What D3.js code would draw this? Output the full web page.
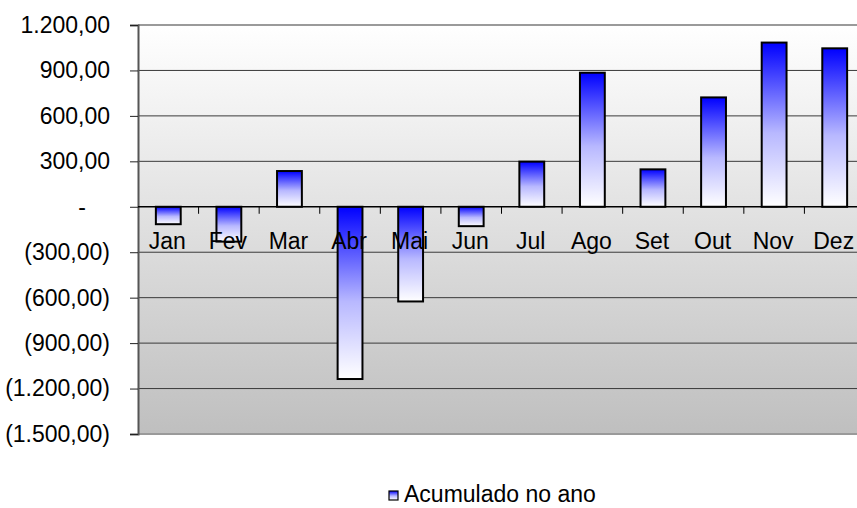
<!DOCTYPE html>
<html>
<head>
<meta charset="utf-8">
<script src="https://cdn.jsdelivr.net/npm/d3@7"></script>
<style>
  body { margin: 0; background: #fff; }
  text { font-family: "Liberation Sans", Arial, sans-serif; fill: #000; }
</style>
</head>
<body>
<script>
// data
var months = ["Jan", "Fev", "Mar", "Abr", "Mai", "Jun", "Jul", "Ago", "Set", "Out", "Nov", "Dez"];
var acumulado = [-115, -230, 236, -1137, -625, -128, 298, 885, 247, 722, 1084, 1046];
var yTicks = [1200, 900, 600, 300, 0, -300, -600, -900, -1200, -1500];
var seriesName = "Acumulado no ano";

var W = 857, H = 508;
var margin = { top: 25, left: 138 },
    width = 727,   // runs past the right edge of the picture, like the original
    height = 409;

var svg = d3.select("body").append("svg")
    .attr("width", W)
    .attr("height", H);

var defs = svg.append("defs");

var bg = defs.append("linearGradient")
    .attr("id", "bg").attr("x1", 0).attr("y1", 0).attr("x2", 0).attr("y2", 1);
bg.append("stop").attr("offset", "0%").attr("stop-color", "#ffffff");
bg.append("stop").attr("offset", "100%").attr("stop-color", "#bfbfbf");

var barGrad = defs.append("linearGradient")
    .attr("id", "barGrad").attr("x1", 0).attr("y1", 0).attr("x2", 0).attr("y2", 1);
barGrad.append("stop").attr("offset", "0%").attr("stop-color", "#0000ff");
barGrad.append("stop").attr("offset", "55%").attr("stop-color", "#b8b8ff");
barGrad.append("stop").attr("offset", "100%").attr("stop-color", "#ffffff");

var g = svg.append("g")
    .attr("transform", "translate(" + margin.left + "," + margin.top + ")");

var x = d3.scaleBand().domain(months).range([0, width]).paddingInner(0.59).paddingOuter(0.295);
var xb = d3.scaleBand().domain(months).range([0, width]);
var y = d3.scaleLinear().domain([-1500, 1200]).range([height, 0]);

var fmt = function(v) {
  if (v === 0) return "-";
  var s = d3.format(",.2f")(Math.abs(v)).replace(/,/g, "#").replace(".", ",").replace(/#/g, ".");
  return v < 0 ? "(" + s + ")" : s;
};

// plot background
g.append("rect")
    .attr("x", 0).attr("y", 0)
    .attr("width", width).attr("height", height)
    .attr("fill", "url(#bg)");

// gridlines
g.selectAll(".grid")
    .data(yTicks.filter(function(d) { return d !== 1200 && d !== -1500 && d !== 0; }))
  .enter().append("line")
    .attr("x1", 0).attr("x2", width)
    .attr("y1", function(d) { return y(d); })
    .attr("y2", function(d) { return y(d); })
    .attr("stroke", "#3a3a3a").attr("stroke-width", 1);

// top / bottom border
g.append("line").attr("x1", 0).attr("x2", width).attr("y1", y(1200)).attr("y2", y(1200))
    .attr("stroke", "#9a9a9a").attr("stroke-width", 2);
g.append("line").attr("x1", 0).attr("x2", width).attr("y1", y(-1500)).attr("y2", y(-1500))
    .attr("stroke", "#9a9a9a").attr("stroke-width", 2);

// y axis
var yAxis = d3.axisLeft(y).tickValues(yTicks).tickSize(8).tickPadding(20).tickFormat(fmt);
var ya = g.append("g").call(yAxis);
ya.select(".domain").attr("stroke", "#555").attr("stroke-width", 2);
ya.selectAll(".tick line").attr("stroke", "#222");
ya.selectAll("text").style("font-size", "23px").attr("fill", "#000");
// the "-" for zero sits further left (accounting format)
ya.selectAll(".tick").filter(function(d) { return d === 0; }).select("text").attr("dx", -24);

// bars
g.selectAll(".bar")
    .data(acumulado)
  .enter().append("rect")
    .attr("x", function(d, i) { return x(months[i]); })
    .attr("width", x.bandwidth())
    .attr("y", function(d) { return y(Math.max(0, d)); })
    .attr("height", function(d) { return Math.abs(y(d) - y(0)); })
    .attr("fill", "url(#barGrad)")
    .attr("stroke", "#000")
    .attr("stroke-width", 2);

// zero line with category ticks
g.append("line").attr("x1", 0).attr("x2", width).attr("y1", y(0)).attr("y2", y(0))
    .attr("stroke", "#000").attr("stroke-width", 1.5);
g.selectAll(".ctick")
    .data(months.slice(1))
  .enter().append("line")
    .attr("x1", function(d) { return xb(d); })
    .attr("x2", function(d) { return xb(d); })
    .attr("y1", y(0)).attr("y2", y(0) + 7)
    .attr("stroke", "#000");

// category labels
g.selectAll(".clabel")
    .data(months)
  .enter().append("text")
    .attr("x", function(d) { return xb(d) + xb.bandwidth() / 2 - 1; })
    .attr("y", y(0) + 42)
    .attr("text-anchor", "middle")
    .style("font-size", "23px")
    .text(function(d) { return d; });

// legend
var leg = svg.append("g").attr("transform", "translate(389,491)");
leg.append("rect").attr("x", 0).attr("y", 0).attr("width", 9).attr("height", 9)
    .attr("fill", "url(#barGrad)").attr("stroke", "#000").attr("stroke-width", 1.2);
leg.append("text").attr("x", 15).attr("y", 11)
    .style("font-size", "23px")
    .text(seriesName);
</script>
</body>
</html>
